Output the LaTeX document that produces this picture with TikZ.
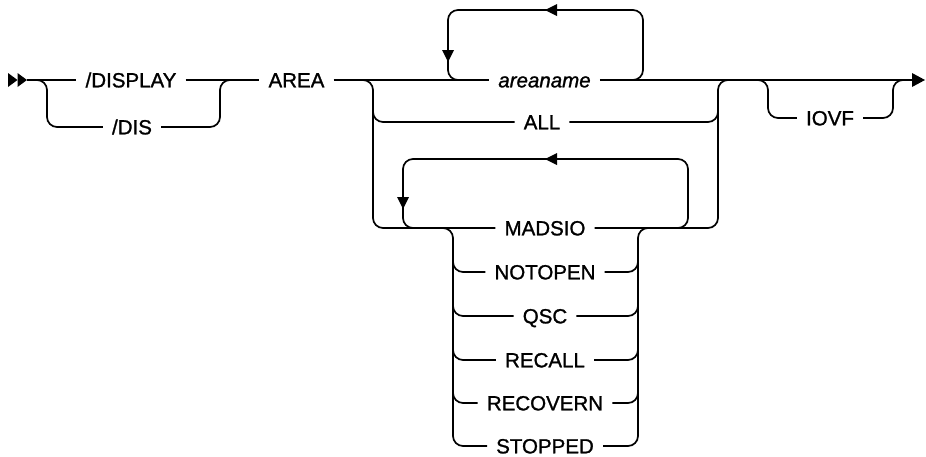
\documentclass[tikz,border=0pt]{standalone}
\usepackage{fontspec}
\setmainfont{Liberation Sans}[RawFeature={embolden=1.2}]
\begin{document}
\begin{tikzpicture}[x=1pt,y=-1pt,
  wire/.style={line width=1.7pt},
  rc/.style={wire, rounded corners=10pt},
  kw/.style={font=\fontsize{20.5}{24}\selectfont, inner xsep=9pt, inner ysep=0pt, text height=14.7pt, text depth=0pt},
  var/.style={kw, font=\fontsize{20.5}{24}\selectfont\itshape},
  tipfill/.style={fill=black}]
\useasboundingbox (0,0) rectangle (926,456);

% nodes
\node[kw] (display) at (131,80) {/DISPLAY};
\node[kw] (dis) at (132,127) {/DIS};
\node[kw] (area) at (296.5,80) {AREA};
\node[var] (areaname) at (544.5,80) {areaname};
\node[kw] (all) at (542,122) {ALL};
\node[kw] (madsio) at (545,228) {MADSIO};
\node[kw] (notopen) at (545,272) {NOTOPEN};
\node[kw] (qsc) at (545,316) {QSC};
\node[kw] (recall) at (545,360) {RECALL};
\node[kw] (recovern) at (545,403) {RECOVERN};
\node[kw] (stopped) at (545,446) {STOPPED};
\node[kw] (iovf) at (830,118) {IOVF};

\coordinate (start) at (27,80);
\coordinate (end) at (912,80);

% start / end tips
\fill[tipfill] (8,73) -- (17.5,80) -- (8,87) -- cycle;
\fill[tipfill] (17.5,73) -- (27,80) -- (17.5,87) -- cycle;
\fill[tipfill] (912,73) -- (925,80) -- (912,87) -- cycle;

% main line
\draw[wire] (start) -- (display.west);
\draw[wire] (display.east) -- (area.west);
\draw[wire] (area.east) -- (areaname.west);
\draw[wire] (areaname.east) -- (end);

% /DIS branch
\draw[rc] (37,80) -- (47,80) -- (47,127) -- (dis.west);
\draw[rc] (dis.east) -- (220,127) -- (220,80) -- (230,80);

% areaname repeat loop
\draw[rc] (633,80) -- (643,80) -- (643,10) -- (448,10) -- (448,80) -- (458,80);
\fill[tipfill] (545,10) -- (557,4) -- (557,16) -- cycle;
\fill[tipfill] (448,62) -- (442,50) -- (454,50) -- cycle;

% ALL and outer group
\draw[rc] (363,80) -- (373,80) -- (373,228) -- (madsio.west);
\draw[rc] (373,112) -- (373,122) -- (all.west);
\draw[rc] (all.east) -- (718,122) -- (718,112);
\draw[rc] (madsio.east) -- (718,228) -- (718,80) -- (728,80);

% MADSIO repeat loop
\draw[rc] (678,228) -- (688,228) -- (688,159) -- (403,159) -- (403,228) -- (413,228);
\fill[tipfill] (545,159) -- (557,153) -- (557,165) -- cycle;
\fill[tipfill] (403,209) -- (397,197) -- (409,197) -- cycle;

% inner choice stack
\draw[rc] (443,228) -- (453,228) -- (453,446) -- (stopped.west);
\draw[rc] (stopped.east) -- (638,446) -- (638,228) -- (648,228);
\foreach \n/\y in {notopen/272, qsc/316, recall/360, recovern/403} {
  \draw[rc] (453,\y-10) -- (453,\y) -- (\n.west);
  \draw[rc] (\n.east) -- (638,\y) -- (638,\y-10);
}

% IOVF branch
\draw[rc] (758,80) -- (768,80) -- (768,118) -- (iovf.west);
\draw[rc] (iovf.east) -- (893,118) -- (893,80) -- (903,80);
\end{tikzpicture}
\end{document}
